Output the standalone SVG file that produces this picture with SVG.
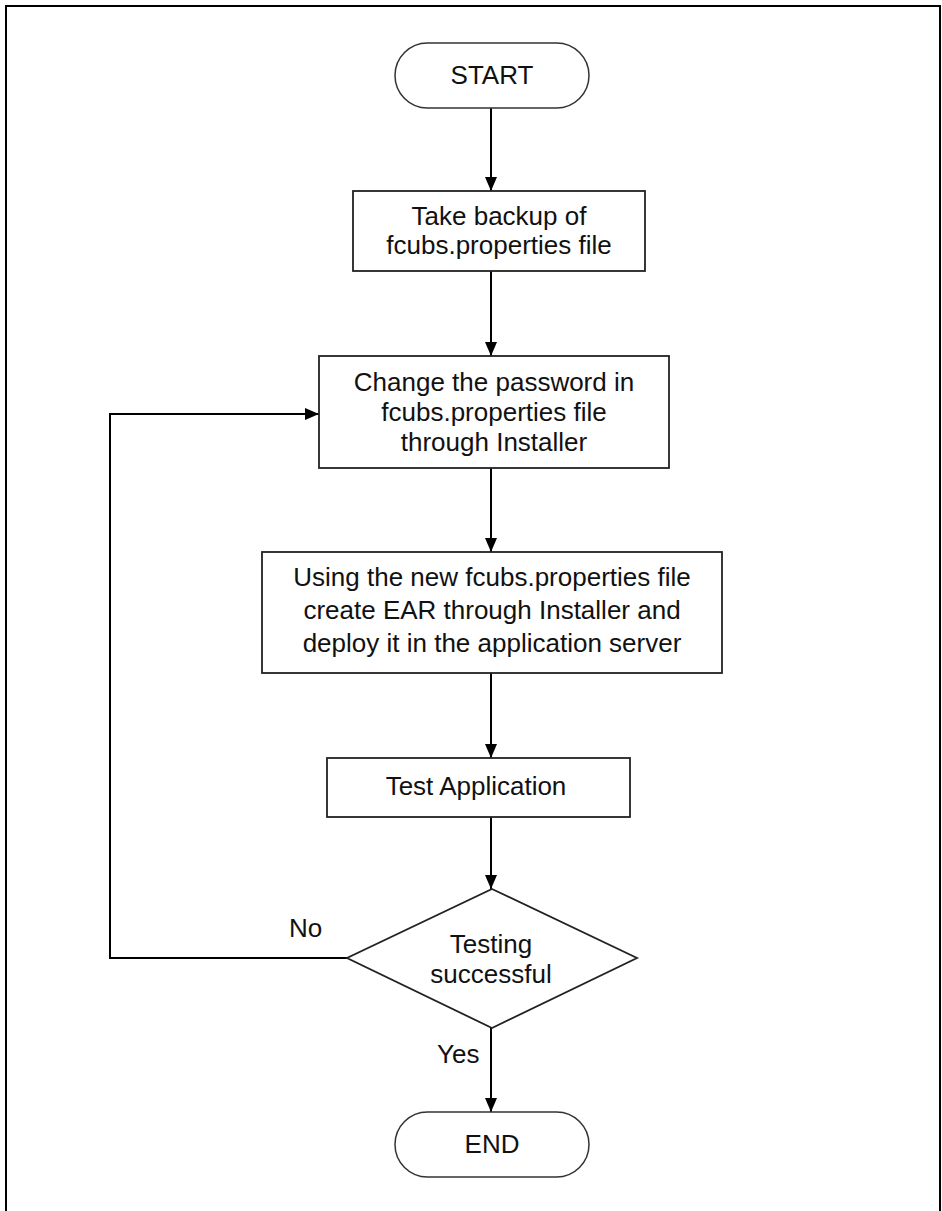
<svg xmlns="http://www.w3.org/2000/svg" width="942" height="1211" viewBox="0 0 942 1211">
<defs>
<style>
.frame{fill:none;stroke:#000;stroke-width:2}
.shape{fill:#fff;stroke:#222;stroke-width:1.8}
.term{fill:#fff;stroke:#333;stroke-width:1.5}
.conn{fill:none;stroke:#000;stroke-width:2}
text{font-family:"Liberation Sans",Arial,sans-serif;font-size:26px;fill:#111;text-anchor:middle}
.lbl{text-anchor:start}
</style>
<marker id="arr" viewBox="0 0 14 12" refX="14" refY="6" markerWidth="14" markerHeight="12" markerUnits="userSpaceOnUse" orient="auto">
<path d="M0,0 L14,6 L0,12 Z" fill="#000"/>
</marker>
</defs>
<rect width="942" height="1211" fill="#fff"/>
<path class="frame" d="M6,1211 V6 H940 V1211"/>
<g id="connectors">
<line class="conn" x1="491" y1="108" x2="491" y2="191" marker-end="url(#arr)"/>
<line class="conn" x1="491" y1="271" x2="491" y2="356" marker-end="url(#arr)"/>
<line class="conn" x1="491" y1="468" x2="491" y2="552" marker-end="url(#arr)"/>
<line class="conn" x1="491" y1="673" x2="491" y2="758" marker-end="url(#arr)"/>
<line class="conn" x1="491" y1="817" x2="491" y2="889" marker-end="url(#arr)"/>
<line class="conn" x1="491" y1="1028" x2="491" y2="1112" marker-end="url(#arr)"/>
<path class="conn" d="M347,958 H110 V414 H319" marker-end="url(#arr)"/>
<text class="lbl" x="289" y="937">No</text>
<text class="lbl" x="437" y="1063">Yes</text>
</g>
<g id="start">
<rect class="term" x="395" y="43" width="194" height="65" rx="32.5"/>
<text x="492" y="84">START</text>
</g>
<g id="backup">
<rect class="shape" x="353" y="191" width="292" height="80"/>
<text x="499" y="225">Take backup of</text>
<text x="499" y="254">fcubs.properties file</text>
</g>
<g id="change">
<rect class="shape" x="319" y="356" width="350" height="112"/>
<text x="494" y="391">Change the password in</text>
<text x="494" y="421">fcubs.properties file</text>
<text x="494" y="451">through Installer</text>
</g>
<g id="deploy">
<rect class="shape" x="262" y="552" width="460" height="121"/>
<text x="492" y="586">Using the new fcubs.properties file</text>
<text x="492" y="619">create EAR through Installer and</text>
<text x="492" y="652">deploy it in the application server</text>
</g>
<g id="test">
<rect class="shape" x="327" y="758" width="303" height="59"/>
<text x="476" y="795">Test Application</text>
</g>
<g id="decision">
<polygon class="shape" points="492,889 637,958 492,1028 347,958"/>
<text x="491" y="953">Testing</text>
<text x="491" y="983">successful</text>
</g>
<g id="end">
<rect class="term" x="395" y="1112" width="194" height="65" rx="32.5"/>
<text x="492" y="1153">END</text>
</g>
</svg>
